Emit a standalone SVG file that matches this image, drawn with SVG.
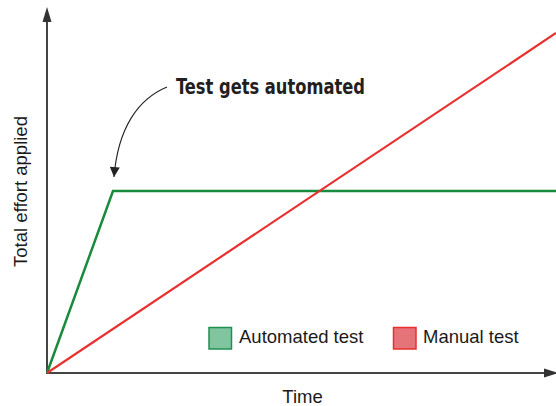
<svg xmlns="http://www.w3.org/2000/svg" width="556" height="406" viewBox="0 0 556 406">
<style>
.axis{stroke:#444;stroke-width:2;fill:none}
.lbl{font-family:"Liberation Sans",Arial,sans-serif;font-size:18.5px;fill:#1a1a1a}
.title{font-family:"Liberation Sans Narrow","DejaVu Sans Condensed","Liberation Sans",sans-serif;font-weight:bold;font-size:22px;fill:#231f20}
</style>
<defs>
<marker id="ah" viewBox="0 0 10 10" refX="10" refY="5" markerWidth="11" markerHeight="10" markerUnits="userSpaceOnUse" orient="auto">
<path d="M0,0 L10,5 L0,10 z" fill="#222"/>
</marker>
</defs>
<rect width="556" height="406" fill="#fff"/>
<g id="axes">
<line class="axis" x1="47" y1="374" x2="47" y2="20"/>
<path d="M42.5,22 L47,7 L51.5,22 z" fill="#333"/>
<line class="axis" x1="46" y1="373" x2="546" y2="373"/>
<path d="M544,368.5 L558,373 L544,377.5 z" fill="#333"/>
</g>
<g id="connectors">
<polyline points="47,373 113,191 556,191" fill="none" stroke="#1a8a3c" stroke-width="2.5" stroke-linejoin="miter"/>
<line x1="47" y1="373" x2="556" y2="33" stroke="#e8312f" stroke-width="2.2"/>
<path d="M167,87 C138,99 118,128 114,177" fill="none" stroke="#222" stroke-width="1.1" marker-end="url(#ah)"/>
</g>
<g id="title">
<text class="title" x="176" y="94" textLength="189" lengthAdjust="spacingAndGlyphs">Test gets automated</text>
</g>
<g id="legend-automated">
<rect x="209" y="327.5" width="22.5" height="21.5" fill="#80c5a0" stroke="#1e9050" stroke-width="1.5"/>
<text class="lbl" x="239" y="343">Automated test</text>
</g>
<g id="legend-manual">
<rect x="393.5" y="327.5" width="22.5" height="21.5" fill="#e5737a" stroke="#e8312f" stroke-width="1.5"/>
<text class="lbl" x="423" y="343">Manual test</text>
</g>
<g id="x-label">
<text class="lbl" x="302.5" y="403" text-anchor="middle">Time</text>
</g>
<g id="y-label">
<text class="lbl" transform="translate(27,191.5) rotate(-90)" text-anchor="middle">Total effort applied</text>
</g>
</svg>
